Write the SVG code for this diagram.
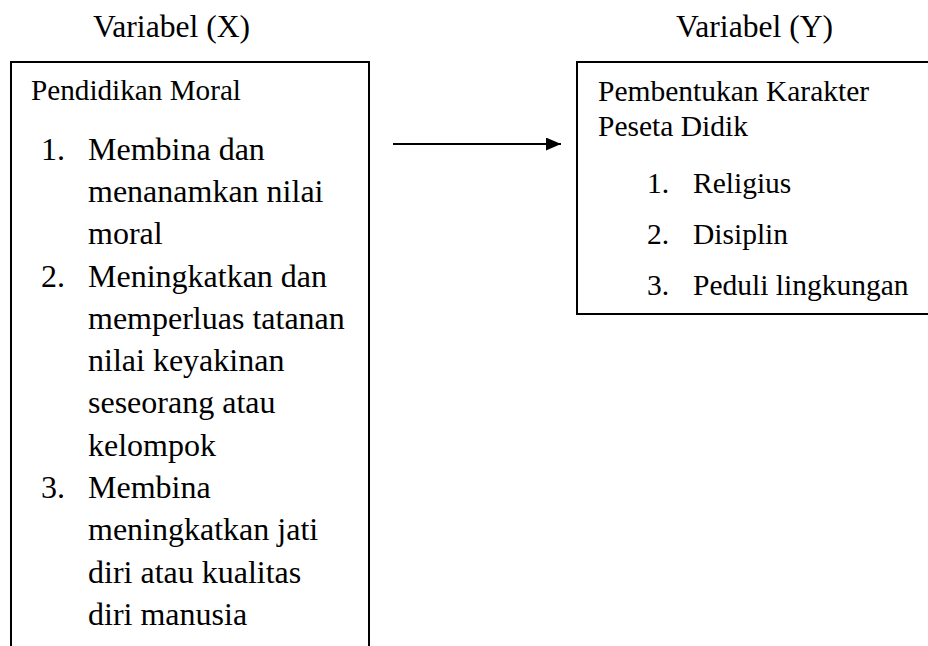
<svg xmlns="http://www.w3.org/2000/svg" width="928" height="646" viewBox="0 0 928 646">
<style>
text{font-family:"Liberation Serif","Times New Roman",serif;fill:#000}
.h{font-size:31.6px}
.l{font-size:32px}
.t{font-size:29.2px}
.r{font-size:29.5px}
.box{fill:none;stroke:#000;stroke-width:2}
.conn{stroke:#000;stroke-width:2;fill:none}
</style>
<defs>
<marker id="ah" viewBox="0 0 15 13" refX="15" refY="6.5" markerWidth="15" markerHeight="13" markerUnits="userSpaceOnUse" orient="auto">
<path d="M0,0 L15,6.5 L0,13 Z" fill="#000"/>
</marker>
</defs>
<rect width="928" height="646" fill="#fff"/>
<g id="labelX"><text class="h" x="93" y="37">Variabel (X)</text></g>
<g id="labelY"><text class="h" x="676" y="37">Variabel (Y)</text></g>
<g id="nodeX">
<path class="box" d="M11,646 V62 H369 V646"/>
<text class="t" x="31" y="100">Pendidikan Moral</text>
<text class="l" x="41" y="160">1.</text>
<text class="l" x="88" y="160">Membina dan</text>
<text class="l" x="88" y="202">menanamkan nilai</text>
<text class="l" x="88" y="244">moral</text>
<text class="l" x="41" y="287">2.</text>
<text class="l" x="88" y="287">Meningkatkan dan</text>
<text class="l" x="88" y="329">memperluas tatanan</text>
<text class="l" x="88" y="371">nilai keyakinan</text>
<text class="l" x="88" y="413">seseorang atau</text>
<text class="l" x="88" y="456">kelompok</text>
<text class="l" x="41" y="498">3.</text>
<text class="l" x="88" y="498">Membina</text>
<text class="l" x="88" y="540">meningkatkan jati</text>
<text class="l" x="88" y="583">diri atau kualitas</text>
<text class="l" x="88" y="625">diri manusia</text>
</g>
<g id="nodeY">
<path class="box" d="M930,62 H577 V314 H930"/>
<text class="r" x="598" y="101">Pembentukan Karakter</text>
<text class="r" x="598" y="136">Peseta Didik</text>
<text class="r" x="647" y="193">1.</text>
<text class="r" x="693" y="193">Religius</text>
<text class="r" x="647" y="244">2.</text>
<text class="r" x="693" y="244">Disiplin</text>
<text class="r" x="647" y="295">3.</text>
<text class="r" x="693" y="295">Peduli lingkungan</text>
</g>
<g id="connectors">
<line class="conn" x1="393" y1="144" x2="561" y2="144" marker-end="url(#ah)"/>
</g>
</svg>
